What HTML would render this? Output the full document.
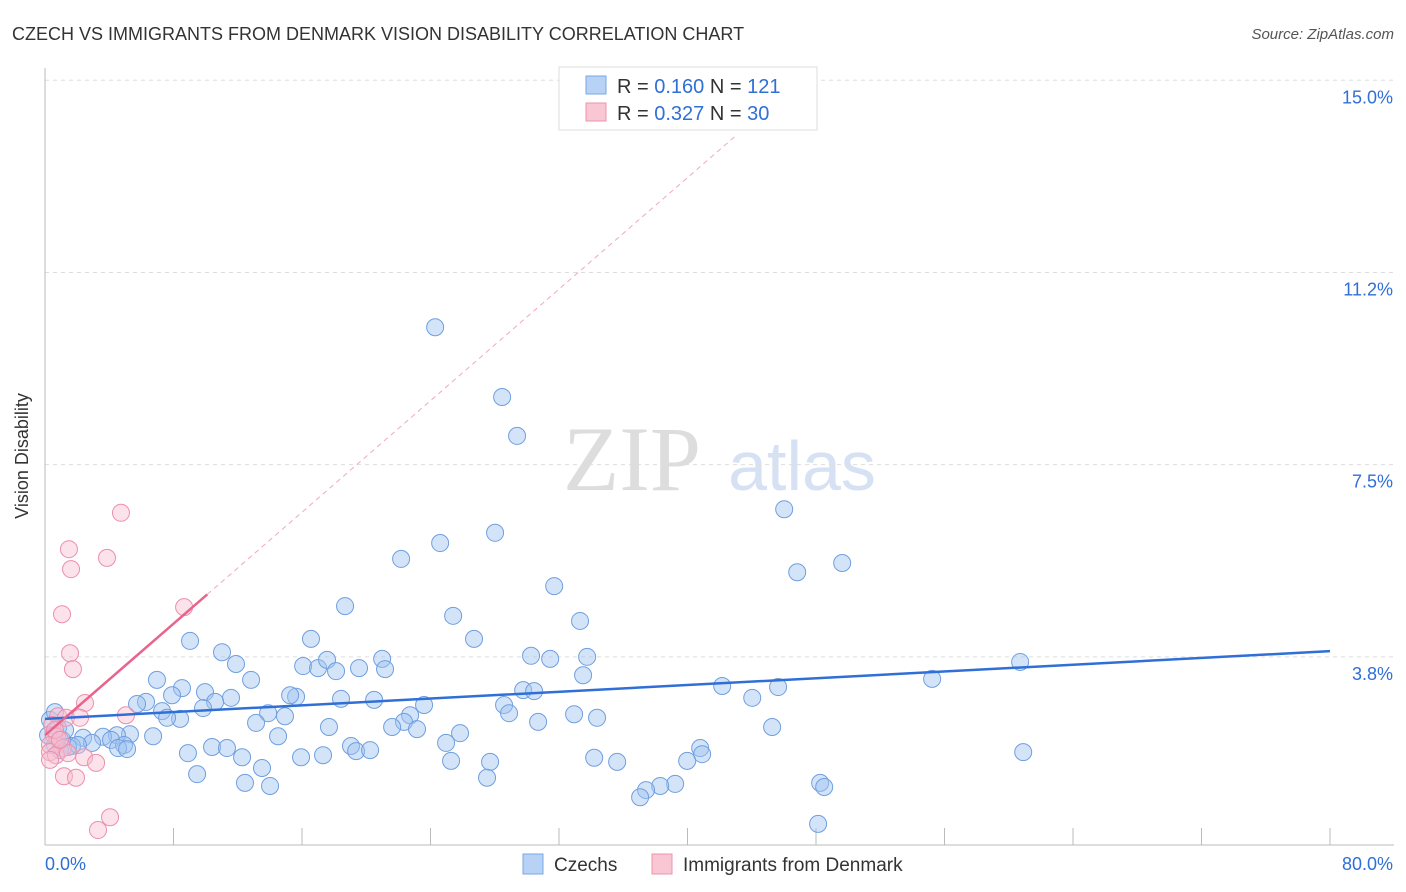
<!DOCTYPE html>
<html><head><meta charset="utf-8">
<style>
body{margin:0;background:#fff;font-family:"Liberation Sans",sans-serif;}
svg{display:block}
</style></head>
<body>
<svg id="chart" width="1406" height="892">
<text x="12" y="40" font-size="18" fill="#333">CZECH VS IMMIGRANTS FROM DENMARK VISION DISABILITY CORRELATION CHART</text>
<text x="1394" y="39" font-size="15" fill="#555" text-anchor="end" font-style="italic">Source: ZipAtlas.com</text>
<text x="28" y="456" font-size="18" fill="#333" text-anchor="middle" transform="rotate(-90 28 456)">Vision Disability</text>
<g>
<text x="632" y="490" font-size="92" fill="#ddd" text-anchor="middle" font-family="Liberation Serif,serif">ZIP</text>
<text x="802" y="490" font-size="70" fill="#d6e2f3" text-anchor="middle">atlas</text>
</g>
<g id="grid"></g>
<g id="axes"></g>
<g id="marks"></g>
<g>
<rect x="559" y="67" width="258" height="63" fill="#fff" stroke="#ddd"/>
<rect x="586" y="76" width="20" height="18" fill="#b8d2f5" stroke="#7aa7e6"/>
<rect x="586" y="103" width="20" height="18" fill="#f9c6d4" stroke="#ee93ad"/>
<text x="617" y="93" font-size="20" fill="#333">R = <tspan fill="#2f6fd6">0.160</tspan>   N = <tspan fill="#2f6fd6">121</tspan></text>
<text x="617" y="120" font-size="20" fill="#333">R = <tspan fill="#2f6fd6">0.327</tspan>   N = <tspan fill="#2f6fd6">30</tspan></text>
</g>
<g>
<rect x="523" y="854" width="20" height="20" fill="#b8d2f5" stroke="#7aa7e6"/>
<text x="554" y="871" font-size="19" fill="#333">Czechs</text>
<rect x="652" y="854" width="20" height="20" fill="#f9c6d4" stroke="#ee93ad"/>
<text x="683" y="871" font-size="19" fill="#333">Immigrants from Denmark</text>
</g>
</svg>
<script>
const yTicks=[15,11.25,7.5,3.75];
const yTickLabels=["15.0%","11.2%","7.5%","3.8%"];
const xTickVals=[0,8,16,24,32,40,48,56,64,72,80];
const czechX=[24.29,28.46,29.39,46.02,28.02,24.6,22.17,49.63,46.83,31.7,18.68,25.41,33.31,9.03,16.56,26.71,11.02,30.26,33.75,31.45,20.99,60.71,11.89,16.07,17,17.56,19.55,21.17,18.12,33.5,6.97,12.83,42.16,45.64,55.23,8.53,29.77,30.45,9.96,7.91,15.63,15.26,11.58,10.59,18.43,20.49,44.03,6.29,5.73,9.84,28.58,23.6,7.29,13.89,28.89,8.41,14.94,22.73,32.94,34.37,7.6,13.14,22.35,21.61,30.7,17.68,45.27,23.16,14.51,6.73,25.84,5.29,4.48,3.61,2.37,4.11,4.92,2.93,4.55,5.11,24.97,8.9,10.4,11.33,19.05,19.37,20.24,40.79,60.9,12.27,15.94,17.31,34.19,40.91,35.62,39.98,25.28,27.71,13.51,9.47,12.45,14.01,27.52,39.23,38.3,37.42,37.05,48.26,48.51,48.13,1.06,1.68,0.62,1.43,0.31,0.81,1.25,2.05,0.93,0.19,0.62];
const czechY=[10.18,8.82,8.06,6.63,6.17,5.97,5.66,5.58,5.4,5.13,4.74,4.55,4.45,4.06,4.1,4.1,3.84,3.77,3.75,3.71,3.71,3.65,3.61,3.57,3.53,3.69,3.53,3.51,3.47,3.39,3.3,3.3,3.18,3.16,3.32,3.14,3.1,3.08,3.06,3,2.97,3,2.95,2.87,2.93,2.91,2.95,2.87,2.83,2.75,2.81,2.81,2.69,2.65,2.65,2.54,2.59,2.61,2.63,2.56,2.56,2.46,2.48,2.38,2.48,2.38,2.38,2.34,2.2,2.2,2.26,2.24,2.22,2.19,2.17,2.13,2.03,2.07,1.97,1.95,2.07,1.87,1.99,1.97,2.01,1.91,1.93,1.97,1.89,1.79,1.79,1.83,1.78,1.85,1.7,1.72,1.72,1.7,1.58,1.46,1.29,1.23,1.39,1.27,1.23,1.15,1.01,1.29,1.21,0.49,2.13,2.01,2.03,1.99,2.52,2.36,2.32,2.03,1.93,2.22,2.67];
const denX=[4.73,1.49,3.86,1.62,1.06,8.66,1.56,1.74,2.49,5.04,0.81,1.31,2.18,0.44,0.56,0.75,0.31,1.12,0.31,0.68,1.43,2.43,3.18,0.31,1.18,1.93,4.05,3.3,0.62,0.93];
const denY=[6.56,5.85,5.68,5.46,4.58,4.72,3.82,3.51,2.85,2.61,2.59,2.56,2.56,2.42,2.22,2.19,2.03,1.97,1.89,1.83,1.87,1.79,1.68,1.74,1.42,1.39,0.62,0.37,2.32,2.13];
const czechTrend=[2.54,3.86];
const denTrend=[2.22,0.272];
const X0=45,X1=1330,Y0=849,YPP=51.25;
const sx=v=>X0+v*(X1-X0)/80;
const sy=v=>Y0-v*YPP;
const NS="http://www.w3.org/2000/svg";
function mk(tag,attrs,parent){const e=document.createElementNS(NS,tag);for(const k in attrs)e.setAttribute(k,attrs[k]);document.getElementById(parent).appendChild(e);return e;}
yTicks.forEach((t,i)=>{
 const l=mk('line',{x1:45,x2:1394,y1:sy(t),y2:sy(t),stroke:'#ddd','stroke-dasharray':'4 4'},'grid');
 
 
 const tx=mk('text',{x:1393,y:sy(t)+23,'font-size':18,fill:'#2f6fd6','text-anchor':'end'},'grid');
 tx.textContent=yTickLabels[i];
 
 
});
const ya=mk('line',{x1:45,x2:45,y1:68,y2:845,stroke:'#bbb'},'axes');


const xa=mk('line',{x1:45,x2:1394,y1:845,y2:845,stroke:'#bbb'},'axes');


xTickVals.forEach(v=>{
 const t=mk('line',{x1:sx(v),x2:sx(v),y1:828,y2:845,stroke:'#bbb'},'axes');
 
 
});
const xl0=mk('text',{x:45,y:870,'font-size':18,fill:'#2f6fd6'},'axes');xl0.textContent='0.0%';


const xl1=mk('text',{x:1393,y:870,'font-size':18,fill:'#2f6fd6','text-anchor':'end'},'axes');xl1.textContent='80.0%';


czechX.forEach((x,i)=>{
 const c=mk('circle',{cx:sx(x),cy:sy(czechY[i]),r:8.5,fill:'rgba(160,195,240,0.45)',stroke:'#6f9fe0','stroke-width':1},'marks');
 
 
});
denX.forEach((x,i)=>{
 const c=mk('circle',{cx:sx(x),cy:sy(denY[i]),r:8.5,fill:'rgba(248,190,208,0.45)',stroke:'#ec8fab','stroke-width':1},'marks');
 
 
});
const bt=mk('line',{x1:sx(0),y1:sy(czechTrend[0]),x2:sx(80),y2:sy(czechTrend[1]),stroke:'#2f6fd6','stroke-width':2.5},'marks');


const pd=mk('line',{x1:sx(10.1),y1:sy(denTrend[0]+denTrend[1]*10.1),x2:sx(43),y2:sy(denTrend[0]+denTrend[1]*43),stroke:'#f0a8bd','stroke-width':1,'stroke-dasharray':'5 4'},'marks');


const pt=mk('line',{x1:sx(0),y1:sy(denTrend[0]),x2:sx(10.1),y2:sy(denTrend[0]+denTrend[1]*10.1),stroke:'#e8648c','stroke-width':2.5},'marks');


</script>
</body></html>
